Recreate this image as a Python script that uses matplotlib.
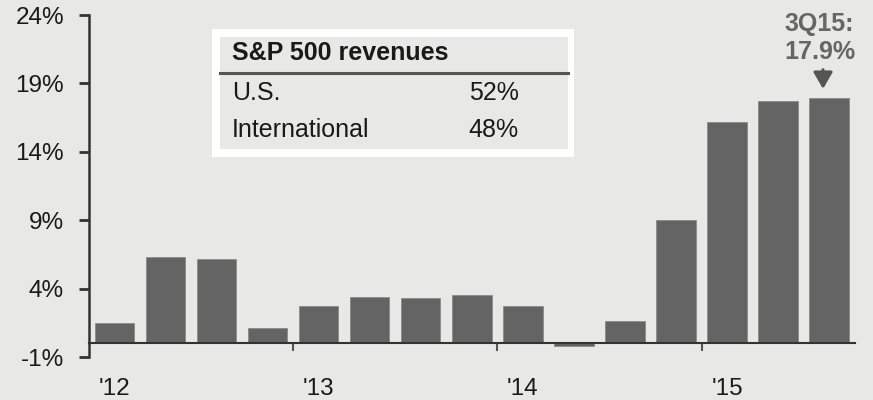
import matplotlib.pyplot as plt
from matplotlib.patches import Rectangle
import numpy as np

# 季度營收成長 (%)
quarters = ['1Q12', '2Q12', '3Q12', '4Q12', '1Q13', '2Q13', '3Q13', '4Q13',
            '1Q14', '2Q14', '3Q14', '4Q14', '1Q15', '2Q15', '3Q15']
growth = [1.5, 6.3, 6.2, 1.1, 2.7, 3.4, 3.3, 3.5, 2.7, -0.2, 1.6, 9.0, 16.2, 17.7, 17.9]
year_labels = ["'12", "'13", "'14", "'15"]
y_ticks = [-1, 4, 9, 14, 19, 24]

table_title = 'S&P 500 revenues'
table_rows = ['U.S.', 'International']
table_vals = ['52%', '48%']
callout = '3Q15:\n17.9%'

bg = '#e8e8e6'
bar_color = '#646464'
txt = '#1a1a1a'

plt.rcParams['font.family'] = ['Liberation Sans', 'DejaVu Sans']

fig = plt.figure(figsize=(8.73, 4.0), dpi=100, facecolor=bg)
ax = fig.add_axes([0.102, 0.1075, 0.877, 0.855], facecolor=bg)

x = np.arange(len(quarters))
ax.bar(x, growth, width=0.77, color=bar_color, edgecolor='#8a8a8a', linewidth=0.6, zorder=2)

ax.set_xlim(-0.5, 14.5)
ax.set_ylim(-1, 24)

# y 軸
ax.set_yticks(y_ticks)
ax.set_yticklabels(['%d%%' % v for v in y_ticks], fontsize=17.5, color=txt)
ax.tick_params(axis='y', length=7, width=2, color='#333333', pad=11)

# x 軸: 在 0 處畫線, 年份標在每年第一季
ax.spines['bottom'].set_position(('data', 0))
ax.spines['bottom'].set_bounds(-0.5, 14.5)
ax.spines['bottom'].set_linewidth(1.5)
ax.spines['bottom'].set_color('#333333')
ax.spines['left'].set_linewidth(1.8)
ax.spines['left'].set_color('#333333')
ax.spines['top'].set_visible(False)
ax.spines['right'].set_visible(False)

ax.set_xticks([0, 4, 8, 12])
ax.set_xticklabels(year_labels, fontsize=17.5, color=txt)
ax.set_xticks([3.5, 7.5, 11.5], minor=True)
ax.tick_params(axis='x', which='major', length=0, pad=25)
ax.tick_params(axis='x', which='minor', length=6, width=1.5, color='#555555', direction='out')

# 標註
ax.text(13.81, 20.4, callout, ha='center', va='bottom', fontsize=18,
        fontweight='bold', color='#666666', linespacing=1.2)
ax.annotate('', xy=(13.88, 18.6), xytext=(13.88, 20.0),
            arrowprops=dict(arrowstyle='-|>,head_width=0.29,head_length=0.5',
                            mutation_scale=20, color='#555555', lw=2.2,
                            shrinkA=0, shrinkB=0))

# 表格
fig.patches.append(Rectangle((0.2428, 0.6075), 0.4147, 0.32, transform=fig.transFigure,
                             facecolor='white', edgecolor='none', zorder=5))
fig.patches.append(Rectangle((0.252, 0.6275), 0.3986, 0.28, transform=fig.transFigure,
                             facecolor=bg, edgecolor='none', zorder=6))
fig.add_artist(plt.Line2D([0.252, 0.6506], [0.818, 0.818], transform=fig.transFigure,
                          color='#555555', lw=2.2, zorder=7))
fig.text(0.2658, 0.8675, table_title, fontsize=18, fontweight='bold', color=txt,
         va='center', zorder=8)
for i, (r, v) in enumerate(zip(table_rows, table_vals)):
    yy = [0.7675, 0.675][i]
    fig.text(0.2658, yy, r, fontsize=18, color=txt, va='center', zorder=8)
    fig.text(0.537, yy, v, fontsize=18, color=txt, va='center', zorder=8)

plt.savefig('out.png', dpi=100, facecolor=bg)
